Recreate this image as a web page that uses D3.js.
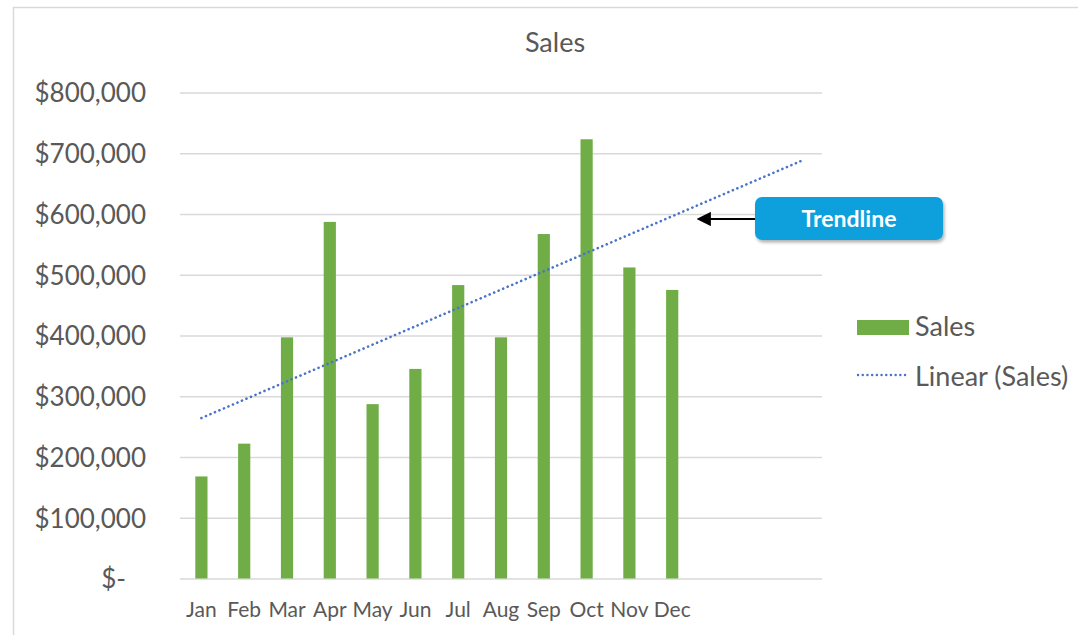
<!DOCTYPE html>
<html>
<head>
<meta charset="utf-8">
<script src="https://cdn.jsdelivr.net/npm/d3@7"></script>
<style>
  html, body { margin: 0; padding: 0; background: #fff; }
  svg { display: block; font-family: Lato, "Open Sans", sans-serif; }
</style>
</head>
<body>
<svg id="chart" width="1078" height="635"></svg>
<script>
// Monthly sales figures
const months = ["Jan", "Feb", "Mar", "Apr", "May", "Jun", "Jul", "Aug", "Sep", "Oct", "Nov", "Dec"];
const sales = [168000, 222000, 397000, 587000, 287000, 345000, 483000, 397000, 567000, 723000, 512000, 475000];
const yTicks = [0, 100000, 200000, 300000, 400000, 500000, 600000, 700000, 800000];
const forecastPeriods = 3; // trendline projected beyond the last month

const svg = d3.select("#chart");

const plot = { left: 180, right: 822, top: 92.5, bottom: 578.5 };
const nSlots = months.length + forecastPeriods;

const x = d3.scaleBand()
  .domain(d3.range(nSlots))
  .range([plot.left, plot.right])
  .paddingInner(0.715)
  .paddingOuter(0.3575);

const xCenter = i => x(i) + x.bandwidth() / 2;

const y = d3.scaleLinear()
  .domain([0, 800000])
  .range([plot.bottom, plot.top]);

// Chart frame
svg.append("rect")
  .attr("x", 13.5).attr("y", 7.5)
  .attr("width", 1200).attr("height", 700)
  .attr("fill", "#fff")
  .attr("stroke", "#d9d9d9")
  .attr("stroke-width", 1.5);

// Title
svg.append("text")
  .attr("x", 555).attr("y", 52)
  .attr("text-anchor", "middle")
  .attr("fill", "#595959")
  .attr("font-size", 27)
  .text("Sales");

// Horizontal gridlines + y labels
const fmt = v => v === 0 ? "$-" : "$" + d3.format(",")(v);
const yAxis = d3.axisLeft(y)
  .tickValues(yTicks)
  .tickSize(-(plot.right - plot.left))
  .tickPadding(34)
  .tickFormat(fmt);

const gy = svg.append("g")
  .attr("transform", `translate(${plot.left},0)`)
  .call(yAxis);
gy.select(".domain").remove();
gy.selectAll(".tick line").attr("stroke", "#d9d9d9").attr("stroke-width", 1.3);
gy.selectAll(".tick text")
  .attr("fill", "#595959")
  .attr("font-size", 26)
  .attr("font-family", "Lato, sans-serif")
  .attr("dy", "0.36em");
gy.selectAll(".tick text").filter(d => d === 0).attr("dx", -20);

// Month labels
const xAxis = d3.axisBottom(x)
  .tickValues(d3.range(months.length))
  .tickSize(0)
  .tickPadding(24)
  .tickFormat(i => months[i]);

const gx = svg.append("g")
  .attr("transform", `translate(0,${plot.bottom})`)
  .call(xAxis);
gx.select(".domain").remove();
gx.selectAll(".tick text")
  .attr("fill", "#595959")
  .attr("font-size", 21)
  .attr("font-family", "Lato, sans-serif");

// Bars
svg.append("g")
  .selectAll("rect")
  .data(sales)
  .join("rect")
  .attr("x", (d, i) => x(i))
  .attr("y", d => y(d))
  .attr("width", x.bandwidth())
  .attr("height", d => y(0) - y(d))
  .attr("fill", "#70ad47");

// Least-squares linear trendline, x = 1..12
const xs = d3.range(1, months.length + 1);
const mx = d3.mean(xs), my = d3.mean(sales);
const slope = d3.sum(xs, (xi, k) => (xi - mx) * (sales[k] - my)) / d3.sum(xs, xi => (xi - mx) ** 2);
const intercept = my - slope * mx;
const trendPts = [1, nSlots].map(p => [xCenter(p - 1), y(intercept + slope * p)]);

svg.append("path")
  .attr("d", d3.line()(trendPts))
  .attr("fill", "none")
  .attr("stroke", "#4a74c8")
  .attr("stroke-width", 2.6)
  .attr("stroke-linecap", "round")
  .attr("stroke-dasharray", "0.1 4.8");

// Legend
const legend = svg.append("g");
legend.append("rect")
  .attr("x", 857).attr("y", 320)
  .attr("width", 52).attr("height", 15)
  .attr("fill", "#70ad47");
legend.append("text")
  .attr("x", 915).attr("y", 336)
  .attr("fill", "#595959").attr("font-size", 27)
  .text("Sales");
legend.append("line")
  .attr("x1", 858).attr("x2", 908)
  .attr("y1", 375).attr("y2", 375)
  .attr("stroke", "#4a74c8")
  .attr("stroke-width", 2.4)
  .attr("stroke-linecap", "round")
  .attr("stroke-dasharray", "0.1 4.6");
legend.append("text")
  .attr("x", 915).attr("y", 386)
  .attr("fill", "#595959").attr("font-size", 27)
  .text("Linear (Sales)");

// Callout pointing at the trendline
const defs = svg.append("defs");
const shadow = defs.append("filter").attr("id", "shadow")
  .attr("x", "-10%").attr("y", "-20%").attr("width", "130%").attr("height", "160%");
shadow.append("feDropShadow")
  .attr("dx", 1.5).attr("dy", 2.5).attr("stdDeviation", 1.8)
  .attr("flood-color", "#000").attr("flood-opacity", 0.3);

defs.append("marker")
  .attr("id", "arrowhead")
  .attr("viewBox", "0 0 10 10")
  .attr("refX", 2).attr("refY", 5)
  .attr("markerWidth", 6.5).attr("markerHeight", 6.5)
  .attr("orient", "auto-start-reverse")
  .append("path")
  .attr("d", "M0,0 L10,5 L0,10 Z")
  .attr("fill", "#000");

svg.append("line")
  .attr("x1", 755).attr("y1", 219)
  .attr("x2", 708).attr("y2", 219)
  .attr("stroke", "#000")
  .attr("stroke-width", 2.2)
  .attr("marker-end", "url(#arrowhead)");

svg.append("rect")
  .attr("x", 755).attr("y", 197)
  .attr("width", 188).attr("height", 43)
  .attr("rx", 7)
  .attr("fill", "#0fa0dc")
  .attr("filter", "url(#shadow)");

svg.append("text")
  .attr("x", 849).attr("y", 227)
  .attr("text-anchor", "middle")
  .attr("fill", "#fff")
  .attr("font-weight", "bold")
  .attr("font-size", 23)
  .text("Trendline");
</script>
</body>
</html>
